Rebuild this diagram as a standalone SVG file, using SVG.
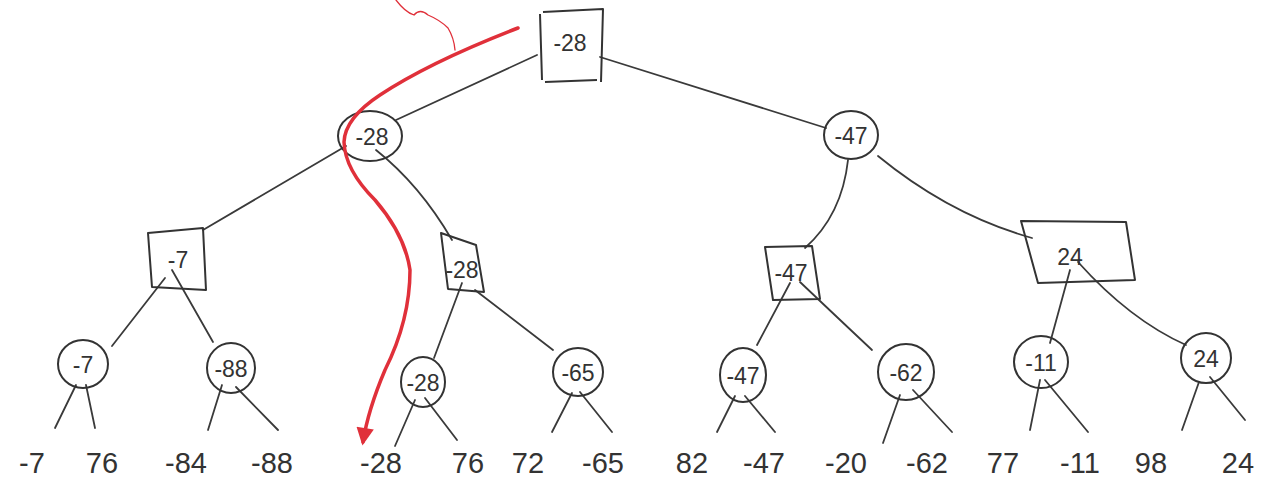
<svg xmlns="http://www.w3.org/2000/svg" width="1284" height="494" viewBox="0 0 1284 494">
<style>
.ln{fill:none;stroke:#3a3a3a;stroke-width:1.8;stroke-linecap:round;stroke-linejoin:round}
.nd{fill:none;stroke:#333;stroke-width:2;stroke-linejoin:round}
.t{font-family:"Liberation Sans",Arial,sans-serif;fill:#333;text-anchor:middle}
.lab{font-size:23px}
.leaf{font-size:29px}
.red{fill:none;stroke:#e0303a;stroke-linecap:round;stroke-linejoin:round}
</style>
<defs>
<marker id="ah" viewBox="0 0 10 10" refX="8" refY="5" markerWidth="6" markerHeight="5" orient="auto">
<path d="M0,0 L10,5 L0,10 Z" fill="#e0303a"/>
</marker>
</defs>
<rect width="1284" height="494" fill="#fff"/>
<g id="connectors">
<path class="ln" d="M537,55 L396,120"/>
<path class="ln" d="M600,57 Q720,95 826,128"/>
<path class="ln" d="M346,146 L203,230"/>
<path class="ln" d="M376,150 Q420,185 452,240"/>
<path class="ln" d="M848,160 Q842,215 805,248"/>
<path class="ln" d="M878,156 Q950,215 1032,238"/>
<path class="ln" d="M165,278 L112,346"/>
<path class="ln" d="M172,270 L213,342"/>
<path class="ln" d="M462,283 L434,358"/>
<path class="ln" d="M475,290 L553,350"/>
<path class="ln" d="M790,283 L757,345"/>
<path class="ln" d="M800,282 Q840,320 872,350"/>
<path class="ln" d="M1070,270 L1050,343"/>
<path class="ln" d="M1078,262 Q1130,320 1186,345"/>
<path class="ln" d="M76,385 L55,428"/>
<path class="ln" d="M86,385 L95,428"/>
<path class="ln" d="M222,385 L208,430"/>
<path class="ln" d="M236,387 L278,430"/>
<path class="ln" d="M415,400 L395,446"/>
<path class="ln" d="M425,398 L457,440"/>
<path class="ln" d="M572,393 L552,432"/>
<path class="ln" d="M580,392 L612,432"/>
<path class="ln" d="M735,396 L717,432"/>
<path class="ln" d="M745,396 L775,432"/>
<path class="ln" d="M900,395 L883,443"/>
<path class="ln" d="M913,390 L952,432"/>
<path class="ln" d="M1040,380 L1030,430"/>
<path class="ln" d="M1045,380 L1088,432"/>
<path class="ln" d="M1199,382 L1182,430"/>
<path class="ln" d="M1210,377 L1245,420"/>
</g>
<g id="root">
<path class="nd" d="M543,12 L603,9 L601,82 M540,14 L542,80 M545,82 L597,80"/>
<text class="t lab" x="570" y="51">-28</text>
</g>
<g id="n1a">
<ellipse class="nd" cx="370" cy="136" rx="32" ry="25"/>
<text class="t lab" x="372" y="145">-28</text>
</g>
<g id="n1b">
<ellipse class="nd" cx="851" cy="135" rx="27" ry="24"/>
<text class="t lab" x="851" y="144">-47</text>
</g>
<g id="n2a">
<path class="nd" d="M148,233 L203,228 L206,290 L152,287 Z"/>
<text class="t lab" x="178" y="268">-7</text>
</g>
<g id="n2b">
<path class="nd" d="M441,233 L476,245 L484,292 L448,289 Z"/>
<text class="t lab" x="462" y="278">-28</text>
</g>
<g id="n2c">
<path class="nd" d="M765,247 L812,246 L820,299 L773,300 Z"/>
<text class="t lab" x="791" y="281">-47</text>
</g>
<g id="n2d">
<path class="nd" d="M1021,221 L1126,222 L1135,280 L1038,283 Z"/>
<text class="t lab" x="1070" y="265">24</text>
</g>
<g id="n3a">
<ellipse class="nd" cx="83" cy="364" rx="25" ry="24"/>
<text class="t lab" x="83" y="373">-7</text>
</g>
<g id="n3b">
<ellipse class="nd" cx="231" cy="368" rx="24" ry="25"/>
<text class="t lab" x="231" y="377">-88</text>
</g>
<g id="n3c">
<ellipse class="nd" cx="423" cy="382" rx="22" ry="25"/>
<text class="t lab" x="423" y="391">-28</text>
</g>
<g id="n3d">
<ellipse class="nd" cx="578" cy="372" rx="25" ry="24"/>
<text class="t lab" x="578" y="381">-65</text>
</g>
<g id="n3e">
<ellipse class="nd" cx="743" cy="375" rx="23" ry="27"/>
<text class="t lab" x="743" y="384">-47</text>
</g>
<g id="n3f">
<ellipse class="nd" cx="906" cy="372" rx="28" ry="28"/>
<text class="t lab" x="906" y="381">-62</text>
</g>
<g id="n3g">
<ellipse class="nd" cx="1041" cy="362" rx="27" ry="26"/>
<text class="t lab" x="1041" y="371">-11</text>
</g>
<g id="n3h">
<ellipse class="nd" cx="1206" cy="358" rx="25" ry="25"/>
<text class="t lab" x="1206" y="367">24</text>
</g>
<g id="leaves">
<text class="t leaf" x="32" y="473">-7</text>
<text class="t leaf" x="102" y="473">76</text>
<text class="t leaf" x="186" y="473">-84</text>
<text class="t leaf" x="272" y="473">-88</text>
<text class="t leaf" x="381" y="473">-28</text>
<text class="t leaf" x="468" y="473">76</text>
<text class="t leaf" x="528" y="473">72</text>
<text class="t leaf" x="603" y="473">-65</text>
<text class="t leaf" x="692" y="473">82</text>
<text class="t leaf" x="764" y="473">-47</text>
<text class="t leaf" x="846" y="473">-20</text>
<text class="t leaf" x="927" y="473">-62</text>
<text class="t leaf" x="1003" y="473">77</text>
<text class="t leaf" x="1080" y="473">-11</text>
<text class="t leaf" x="1151" y="473">98</text>
<text class="t leaf" x="1238" y="473">24</text>
</g>
<g id="annotation">
<path class="red" stroke-width="1.3" d="M396,0 Q405,12 414,15 Q420,8 428,15 Q440,20 448,28 Q454,38 455,50"/>
<path class="red" stroke-width="3.5" marker-end="url(#ah)" d="M518,28 Q430,62 380,95 Q345,118 344,142 Q345,170 375,200 Q405,235 410,270 Q410,320 385,370 Q368,410 363,442"/>
</g>
</svg>
